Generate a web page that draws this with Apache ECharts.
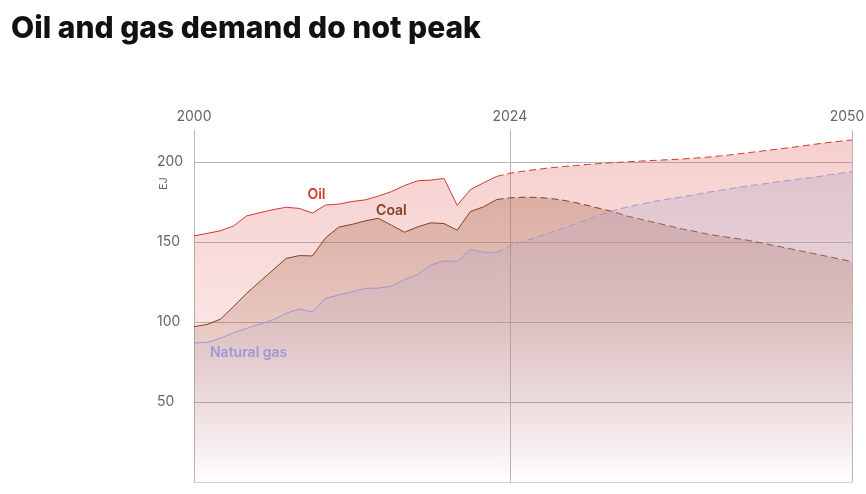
<!DOCTYPE html>
<html>
<head>
<meta charset="utf-8">
<script src="https://cdn.jsdelivr.net/npm/echarts@6/dist/echarts.min.js"></script>
<style>
html,body{margin:0;padding:0;background:#fff;}
#c{width:866px;height:494px;}
</style>
</head>
<body>
<div id="c"></div>
<script>
// Years 2000..2050
var years = [];
for (var y = 2000; y <= 2050; y++) years.push(String(y));

// Historical values 2000..2023 (EJ)
var oilHist = [153.8,155.4,157,160,166.3,168.3,170.2,171.7,171,168.1,173.1,173.7,175.3,176.3,178.7,181.5,185.3,188.3,188.7,189.7,172.9,182.7,187,191];
var coalHist = [97.1,98.5,101.7,109.6,117.9,125.2,132.5,139.7,141.5,141.3,152.6,159.3,161,163.2,164.8,160.5,156.1,159.5,162,161.5,157.4,169,172,176.5];
var gasHist = [86.9,87.3,89.8,93.3,96,98.7,101.3,105.4,108.1,106.3,114.8,116.9,118.9,121,121.2,122.3,126.5,129.8,135.7,138.2,137.8,145.4,143.6,143.5];

// Projections 2023..2050 (EJ)
var oilProj = [191,193,194.2,195.3,196.3,197.1,197.8,198.5,199.1,199.7,200.1,200.6,201,201.4,201.8,202.4,203,203.8,204.7,205.7,206.7,207.7,208.7,209.8,210.9,212,212.9,213.8];
var coalProj = [176.5,177.6,178,177.9,177.3,176.2,174.6,172.7,170.6,168.6,166,164.1,162.2,160.3,158.3,156.7,155,153.6,152.4,151.2,149.6,147.9,146.3,144.6,142.9,141.2,139.5,137.7];
var gasProj = [143.5,147.7,150.3,153,155.7,158.5,161.4,164.3,167.2,170,172,173.7,175.4,176.8,178.1,179.5,181,182.3,183.7,185,186,187.2,188.3,189.4,190.4,191.6,192.8,194];

var labelYears = ['2000','2024','2050'];
var yTicks = [50,100,150,200];

function histSeries(arr){ var out = arr.slice(); while(out.length < years.length) out.push('-'); return out; }
function projSeries(arr){ var out = []; var start = years.length - arr.length; for (var i=0;i<start;i++) out.push('-'); return out.concat(arr); }

var chart = echarts.init(document.getElementById('c'), null, {renderer:'canvas'});
var FONT = 'Inter, "Noto Sans", sans-serif';

function grad(r,g,b,a0){
  return new echarts.graphic.LinearGradient(0,130,0,482,[
    {offset:0,color:'rgba('+r+','+g+','+b+','+a0+')'},
    {offset:0.5,color:'rgba('+r+','+g+','+b+','+(a0*0.6).toFixed(3)+')'},
    {offset:1,color:'rgba('+r+','+g+','+b+',0)'}
  ], true);
}

var oilFill = grad(222,100,94,0.45);
var coalFill = grad(168,100,72,0.58);
var gasFill = grad(178,164,200,0.52);

var OIL = '#d23a30', COAL = '#86401f', GAS = '#a396d4';

function mk(name, data, color, fill, dashed, z){
  return {
    name: name, type:'line', data: data, symbol:'none', smooth:false,
    connectNulls:false, z: z,
    lineStyle:{color:color, width:1, type: dashed ? [7,4] : 'solid'},
    areaStyle:{color:fill, origin:'start'},
    emphasis:{disabled:true}
  };
}

var sOilH = mk('Oil', histSeries(oilHist), OIL, oilFill, false, 2);
sOilH.markPoint = {symbolSize:0, silent:true, data:[{coord:['2009',179.4], value:'Oil'}],
  label:{show:true, formatter:'Oil', color:OIL, fontSize:14, fontWeight:600, fontFamily:FONT, offset:[4,0]}};
var sCoalH = mk('Coal', histSeries(coalHist), COAL, coalFill, false, 3);
sCoalH.markPoint = {symbolSize:0, silent:true, data:[{coord:['2015',169.4], value:'Coal'}],
  label:{show:true, formatter:'Coal', color:COAL, fontSize:14, fontWeight:600, fontFamily:FONT, offset:[0,0]}};
var sGasH = mk('Natural gas', histSeries(gasHist), GAS, gasFill, false, 4);
sGasH.markPoint = {symbolSize:0, silent:true, data:[{coord:['2004',80.6], value:'Natural gas'}],
  label:{show:true, formatter:'Natural gas', color:GAS, fontSize:14, fontWeight:600, fontFamily:FONT, offset:[2,0]}};

var option = {
  animation:false,
  backgroundColor:'#fff',
  title:{text:'Oil and gas demand do not peak', left:6, top:9,
    textStyle:{fontSize:30, fontWeight:800, color:'#111', fontFamily:FONT}},
  grid:{left:194, right:14, top:130, bottom:12, containLabel:false, outerBoundsMode:'none'},
  graphic:[{type:'text', x:158, y:190, rotation:Math.PI/2,
    style:{text:'EJ', fill:'#666', font:'11px '+FONT}}],
  xAxis:{
    type:'category', data:years, boundaryGap:false, position:'top',
    axisLine:{show:false}, axisTick:{show:false},
    axisLabel:{interval:function(i,v){return labelYears.indexOf(v)>=0;}, color:'#666', fontSize:14, fontFamily:FONT, margin:6,
      formatter:function(v){ if (v === '2050') return '{r|' + v + '}'; return labelYears.indexOf(v)>=0 ? v : '';},
      rich:{r:{color:'#666', fontSize:14, fontFamily:FONT, padding:[0,10,0,0]}}},
    splitLine:{show:true, interval:function(i,v){return labelYears.indexOf(v)>=0;}, lineStyle:{color:'#b8b8b8', width:1}}
  },
  yAxis:{
    type:'value', min:0, max:220, interval:50,
    axisLine:{show:false}, axisTick:{show:false},
    axisLabel:{color:'#666', fontSize:14, fontFamily:FONT, align:'left', margin:37,
      formatter:function(v){return yTicks.indexOf(v)>=0 ? String(v) : '';}},
    splitLine:{show:true, showMaxLine:false, lineStyle:{color:['#cfcfcf','#b5b5b5','#b5b5b5','#b5b5b5','#b5b5b5','rgba(0,0,0,0)'], width:1}}
  },
  series:[
    sOilH,
    mk('Oil proj', projSeries(oilProj), OIL, oilFill, true, 2),
    sCoalH,
    mk('Coal proj', projSeries(coalProj), COAL, coalFill, true, 3),
    sGasH,
    mk('Gas proj', projSeries(gasProj), GAS, gasFill, true, 4)
  ]
};
chart.setOption(option);
</script>
</body>
</html>
